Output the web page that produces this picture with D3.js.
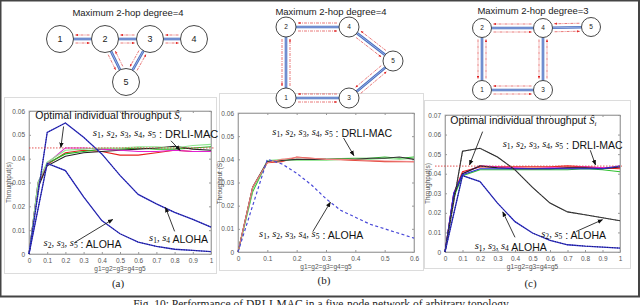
<!DOCTYPE html>
<html>
<head>
<meta charset="utf-8">
<script src="https://cdn.jsdelivr.net/npm/d3@7"></script>
<style>
  body { margin: 0; background: #fff; }
</style>
</head>
<body>
<div id="chart-container"></div>
<script>
const w = 640;
const h = 305;

// ---- data ----
const xAloha = [0, 0.1, 0.2, 0.3, 0.4, 0.5, 0.6, 0.7, 0.8, 0.9, 1];
const xDrli = [0, 0.05, 0.1, 0.2, 0.3, 0.4, 0.5, 0.6, 0.7, 0.8, 0.9, 1];
const xB = [0, 0.05, 0.1, 0.15, 0.2, 0.25, 0.3, 0.35, 0.4, 0.45, 0.5, 0.55, 0.6];
const xAlohaB = [0, 0.1, 0.15, 0.2, 0.25, 0.3, 0.35, 0.4, 0.45, 0.5, 0.55, 0.6];

// (a)
const alohaA14 = [0, 0.051, 0.055, 0.049, 0.042, 0.033, 0.025, 0.021, 0.0175, 0.0145, 0.0113];
const alohaA235 = [0, 0.038, 0.035, 0.024, 0.014, 0.0085, 0.005, 0.0032, 0.002, 0.0015, 0.001];
const drliA = [
  [0, 0.029, 0.0375, 0.0425, 0.0435, 0.043, 0.0415, 0.0415, 0.0425, 0.0435, 0.043, 0.043],
  [0, 0.030, 0.038, 0.042, 0.043, 0.044, 0.044, 0.0445, 0.044, 0.044, 0.0445, 0.045],
  [0, 0.028, 0.037, 0.041, 0.0425, 0.043, 0.0435, 0.044, 0.0445, 0.0452, 0.044, 0.0435],
  [0, 0.030, 0.038, 0.0445, 0.0445, 0.044, 0.0435, 0.043, 0.043, 0.0435, 0.043, 0.043],
  [0, 0.030, 0.0385, 0.0435, 0.044, 0.0445, 0.0445, 0.045, 0.045, 0.0445, 0.0455, 0.046]
];
const optA = 0.0445;

// (b)
const alohaB = [0, 0.040, 0.038, 0.034, 0.029, 0.023, 0.018, 0.015, 0.012, 0.010, 0.008, 0.006];
const drliB = [
  [0, 0.028, 0.0385, 0.039, 0.041, 0.0405, 0.040, 0.0398, 0.0395, 0.0393, 0.039, 0.039, 0.039],
  [0, 0.026, 0.039, 0.0395, 0.040, 0.0398, 0.040, 0.0403, 0.0405, 0.0405, 0.041, 0.0405, 0.041],
  [0, 0.027, 0.0395, 0.040, 0.0395, 0.0395, 0.0395, 0.040, 0.040, 0.040, 0.0405, 0.040, 0.0405],
  [0, 0.028, 0.039, 0.0395, 0.040, 0.040, 0.040, 0.040, 0.040, 0.0405, 0.0405, 0.041, 0.040],
  [0, 0.028, 0.0385, 0.040, 0.0408, 0.0405, 0.040, 0.040, 0.0398, 0.0395, 0.0393, 0.0392, 0.039]
];

// (c)
const alohaC25 = [0, 0.0515, 0.053, 0.0485, 0.042, 0.033, 0.025, 0.0205, 0.019, 0.0175, 0.016];
const alohaC134 = [0, 0.039, 0.036, 0.025, 0.0155, 0.0097, 0.006, 0.0037, 0.003, 0.0025, 0.002];
const drliC = [
  [0, 0.030, 0.041, 0.0435, 0.0435, 0.0435, 0.0435, 0.0435, 0.044, 0.0435, 0.043, 0.0425],
  [0, 0.028, 0.039, 0.042, 0.042, 0.042, 0.042, 0.042, 0.042, 0.0425, 0.042, 0.041],
  [0, 0.030, 0.040, 0.044, 0.0435, 0.043, 0.0425, 0.043, 0.043, 0.0435, 0.043, 0.0435],
  [0, 0.029, 0.040, 0.044, 0.043, 0.0425, 0.0425, 0.0425, 0.043, 0.043, 0.0425, 0.0435],
  [0, 0.030, 0.0395, 0.0425, 0.0425, 0.0425, 0.0425, 0.0425, 0.0425, 0.0425, 0.0425, 0.044]
];
const optC = 0.0439;

const drliColors = ["#e8221f", "#1fb51f", "#222222", "#e020d0", "#8ee68e"];
const drliColorsB = ["#e03a2a", "#2fc02f", "#9be89b", "#333333", "#f08080"];
const drliColorsC = ["#e8221f", "#2fc02f", "#e020d0", "#222222", "#2b2bd6"];

const xTicks10 = [0, 0.1, 0.2, 0.3, 0.4, 0.5, 0.6, 0.7, 0.8, 0.9, 1];
const xTicks6 = [0, 0.1, 0.2, 0.3, 0.4, 0.5, 0.6];
const yTicks6 = [0, 0.01, 0.02, 0.03, 0.04, 0.05, 0.06];
const yTicks7 = [0, 0.01, 0.02, 0.03, 0.04, 0.05, 0.06, 0.07];

const SANS = "Liberation Sans, Arial, sans-serif";
const SERIF = "Liberation Serif, Times New Roman, serif";

const svg = d3.select("#chart-container")
  .append("svg")
  .attr("width", w)
  .attr("height", h)
  .attr("font-family", SANS);

const defs = svg.append("defs");
defs.append("marker").attr("id", "arr")
  .attr("viewBox", "0 0 10 10").attr("refX", 9).attr("refY", 5)
  .attr("markerWidth", 6).attr("markerHeight", 6).attr("orient", "auto")
  .append("path").attr("d", "M0,1 L10,5 L0,9 z").attr("fill", "#111");
defs.append("marker").attr("id", "rarr")
  .attr("viewBox", "0 0 10 10").attr("refX", 9).attr("refY", 5)
  .attr("markerWidth", 4).attr("markerHeight", 4).attr("orient", "auto")
  .append("path").attr("d", "M0,1 L10,5 L0,9 z").attr("fill", "#e02020");

// outer frame
svg.append("rect").attr("x", 0.5).attr("y", 0.5).attr("width", w - 1.5).attr("height", 296)
  .attr("fill", "none").attr("stroke", "#444").attr("stroke-width", 2);

// panel frames (light grey figure windows)
const frames = [[4, 97, 212, 176], [219, 93, 204, 177], [424, 100, 206, 168]];
svg.selectAll("rect.frame").data(frames).join("rect")
  .attr("class", "frame")
  .attr("x", d => d[0] + 0.5).attr("y", d => d[1] + 0.5)
  .attr("width", d => d[2]).attr("height", d => d[3])
  .attr("fill", "#fff").attr("stroke", "#dcdcdc");

// math text like s1,s2,s3 : label
function mathLabel(g, x, y, subs, tail, size) {
  const t = g.append("text").attr("x", x).attr("y", y).attr("font-size", size).attr("fill", "#111");
  subs.forEach((s, i) => {
    t.append("tspan").attr("font-family", SERIF).attr("font-style", "italic").text("s");
    t.append("tspan").attr("font-family", SERIF).attr("font-size", size * 0.72)
      .attr("dy", 2).text(s);
    t.append("tspan").attr("dy", -2).attr("font-family", SERIF)
      .text(i < subs.length - 1 ? ", " : "");
  });
  t.append("tspan").text(tail);
  return t;
}

function optLabel(g, x, y) {
  const t = g.append("text").attr("x", x).attr("y", y).attr("font-size", 10.5).attr("fill", "#111");
  t.append("tspan").text("Optimal individual throughput ");
  t.append("tspan").attr("font-family", SERIF).attr("font-style", "italic").text("Ŝ");
  t.append("tspan").attr("font-family", SERIF).attr("font-style", "italic")
    .attr("font-size", 7).attr("dy", 2).text("i");
}

function panel(cfg) {
  const g = svg.append("g");
  const x = d3.scaleLinear().domain(cfg.xDomain).range(cfg.xRange);
  const y = d3.scaleLinear().domain(cfg.yDomain).range(cfg.yRange);

  // box
  g.append("rect")
    .attr("x", cfg.xRange[0]).attr("y", cfg.yRange[1])
    .attr("width", cfg.xRange[1] - cfg.xRange[0]).attr("height", cfg.yRange[0] - cfg.yRange[1])
    .attr("fill", "#fff").attr("stroke", "#aaa").attr("stroke-width", 0.8);

  const fmt = d => d === 0 ? "0" : (d === 1 ? "1" : String(+d.toFixed(2)));
  g.append("g").attr("transform", `translate(0,${cfg.yRange[0]})`)
    .call(d3.axisBottom(x).tickValues(cfg.xTicks).tickFormat(fmt).tickSizeInner(-2).tickSizeOuter(0).tickPadding(4));
  g.append("g").attr("transform", `translate(${cfg.xRange[0]},0)`)
    .call(d3.axisLeft(y).tickValues(cfg.yTicks).tickFormat(fmt).tickSizeInner(-2).tickSizeOuter(0).tickPadding(4));
  g.append("g").attr("transform", `translate(0,${cfg.yRange[1]})`)
    .call(d3.axisTop(x).tickValues(cfg.xTicks).tickFormat("").tickSizeInner(-2).tickSizeOuter(0));
  g.append("g").attr("transform", `translate(${cfg.xRange[1]},0)`)
    .call(d3.axisRight(y).tickValues(cfg.yTicks).tickFormat("").tickSizeInner(-2).tickSizeOuter(0));
  g.selectAll(".domain").attr("stroke", "#999").attr("stroke-width", 0.8);
  g.selectAll(".tick line").attr("stroke", "#999");
  g.selectAll(".tick text").attr("font-size", 6.5).attr("fill", "#555").attr("font-family", SANS);

  g.append("text").attr("x", (cfg.xRange[0] + cfg.xRange[1]) / 2).attr("y", cfg.yRange[0] + 17)
    .attr("text-anchor", "middle").attr("font-size", 6.5).attr("fill", "#555").text("g1=g2=g3=g4=g5");
  g.append("text")
    .attr("transform", `translate(${cfg.yLabelX},${(cfg.yRange[0] + cfg.yRange[1]) / 2}) rotate(-90)`)
    .attr("text-anchor", "middle").attr("font-size", 6.5).attr("fill", "#555").text(cfg.yLabel);

  g.append("text").attr("x", (cfg.xRange[0] + cfg.xRange[1]) / 2 - 2).attr("y", cfg.tagY)
    .attr("text-anchor", "middle").attr("font-size", 11).attr("font-family", SERIF)
    .attr("fill", "#222").text(cfg.tag);

  return { g, x, y };
}

function drawLine(p, xs, ys, color, opts = {}) {
  const line = d3.line().x((d, i) => p.x(xs[i])).y(d => p.y(d));
  p.g.append("path").datum(ys).attr("d", line)
    .attr("fill", "none").attr("stroke", color)
    .attr("stroke-width", opts.width || 1.1)
    .attr("stroke-dasharray", opts.dash || null);
}

function annotate(p, tx, ty, hx, hy) {
  p.g.append("line")
    .attr("x1", p.x(tx)).attr("y1", p.y(ty)).attr("x2", p.x(hx)).attr("y2", p.y(hy))
    .attr("stroke", "#222").attr("stroke-width", 0.9).attr("marker-end", "url(#arr)");
}

// ---- panel (a) ----
const pA = panel({ xDomain: [0, 1], xRange: [29, 211], yDomain: [0, 0.06], yRange: [254, 111],
  xTicks: xTicks10, yTicks: yTicks6, yLabel: "Throughput(s)", yLabelX: 11, tag: "(a)", tagY: 287 });
drliA.forEach((s, i) => drawLine(pA, xDrli, s, drliColors[i]));
drawLine(pA, xAloha, alohaA14, "#3030d0", { width: 1.3 });
drawLine(pA, xAloha, alohaA14, "#202060", { width: 1, dash: "1,1.5" });
drawLine(pA, xAloha, alohaA235, "#3030d0", { width: 1.3 });
drawLine(pA, xAloha, alohaA235, "#202060", { width: 1, dash: "1,1.5" });
pA.g.append("line").attr("x1", pA.x(0)).attr("x2", pA.x(1) + 3)
  .attr("y1", pA.y(optA)).attr("y2", pA.y(optA))
  .attr("stroke", "#e04040").attr("stroke-width", 0.9).attr("stroke-dasharray", "1.5,1.5");
optLabel(pA.g, pA.x(0.035), pA.y(0.0565));
annotate(pA, 0.19, 0.0535, 0.175, 0.0447);
mathLabel(pA.g, pA.x(0.35), pA.y(0.0495), ["1", "2", "3", "4", "5"], " : DRLI-MAC", 11);
annotate(pA, 0.78, 0.0475, 0.83, 0.0435);
mathLabel(pA.g, pA.x(0.08), pA.y(0.0032), ["2", "3", "5"], " : ALOHA", 10.5);
annotate(pA, 0.25, 0.0048, 0.46, 0.0145);
mathLabel(pA.g, pA.x(0.66), pA.y(0.0055), ["1", "4"], " ALOHA", 10.5);
annotate(pA, 0.8, 0.0095, 0.75, 0.0195);

// ---- panel (b) ----
const pB = panel({ xDomain: [0, 0.6], xRange: [238, 414], yDomain: [0, 0.06], yRange: [252, 113],
  xTicks: xTicks6, yTicks: yTicks6, yLabel: "Throughput (S)", yLabelX: 222, tag: "(b)", tagY: 284 });
drliB.forEach((s, i) => drawLine(pB, xB, s, drliColorsB[i]));
drawLine(pB, xAlohaB, alohaB, "#4a4ad8", { width: 1.2, dash: "3,2.5" });
mathLabel(pB.g, pB.x(0.117), pB.y(0.0505), ["1", "2", "3", "4", "5"], " : DRLI-MAC", 10.5);
annotate(pB, 0.36, 0.0492, 0.395, 0.0416);
mathLabel(pB.g, pB.x(0.072), pB.y(0.0063), ["1", "2", "3", "4", "5"], " : ALOHA", 10.5);
annotate(pB, 0.255, 0.0088, 0.315, 0.0215);

// ---- panel (c) ----
const pC = panel({ xDomain: [0, 1], xRange: [445, 620], yDomain: [0, 0.07], yRange: [252, 115],
  xTicks: xTicks10, yTicks: yTicks7, yLabel: "Throughput(s)", yLabelX: 430, tag: "(c)", tagY: 287 });
drliC.forEach((s, i) => drawLine(pC, xDrli, s, drliColorsC[i]));
drawLine(pC, xAloha, alohaC25, "#222222", { width: 1.1 });
drawLine(pC, xAloha, alohaC25, "#555555", { width: 1, dash: "1,1.5" });
drawLine(pC, xAloha, alohaC134, "#3030d0", { width: 1.3 });
drawLine(pC, xAloha, alohaC134, "#202060", { width: 1, dash: "1,1.5" });
pC.g.append("line").attr("x1", pC.x(0) - 10).attr("x2", pC.x(1) + 2)
  .attr("y1", pC.y(optC)).attr("y2", pC.y(optC))
  .attr("stroke", "#e04040").attr("stroke-width", 0.9).attr("stroke-dasharray", "1.5,1.5");
optLabel(pC.g, pC.x(0.03), pC.y(0.0655));
annotate(pC, 0.215, 0.0615, 0.14, 0.0445);
mathLabel(pC.g, pC.x(0.33), pC.y(0.0535), ["1", "2", "3", "4", "5"], " : DRLI-MAC", 10.5);
annotate(pC, 0.83, 0.0520, 0.86, 0.0445);
mathLabel(pC.g, pC.x(0.55), pC.y(0.0075), ["2", "5"], " : ALOHA", 10.5);
annotate(pC, 0.75, 0.0105, 0.9, 0.0165);
mathLabel(pC.g, pC.x(0.17), pC.y(0.0015), ["1", "3", "4"], " ALOHA", 10.5);
annotate(pC, 0.40, 0.0075, 0.33, 0.0205);

// ---- topology diagrams ----
const titles = [
  { x: 128, y: 16, text: "Maximum 2-hop degree=4" },
  { x: 331, y: 15, text: "Maximum 2-hop degree=4" },
  { x: 533, y: 14, text: "Maximum 2-hop degree=3" }
];
svg.selectAll("text.title").data(titles).join("text")
  .attr("class", "title").attr("x", d => d.x).attr("y", d => d.y)
  .attr("text-anchor", "middle").attr("font-size", 9.5).attr("fill", "#222").text(d => d.text);

const topoA = { r: 13.5, font: 9,
  nodes: { 1: [60, 39], 2: [105, 39], 3: [150, 39], 4: [194, 39], 5: [126, 82] },
  links: [[1, 2], [2, 3], [3, 4], [2, 5], [3, 5]] };
const topoB = { r: 10, font: 6.5,
  nodes: { 2: [286, 27], 4: [349, 27], 5: [393, 61], 1: [286, 98], 3: [349, 98] },
  links: [[2, 4], [4, 5], [1, 2], [1, 3], [3, 5]] };
const topoC = { r: 9.5, font: 6.5,
  nodes: { 2: [482, 28], 4: [543, 28], 5: [591, 27], 1: [482, 90], 3: [543, 90] },
  links: [[2, 4], [4, 5], [1, 2], [1, 3], [3, 4]] };

function topology(t) {
  const g = svg.append("g");
  t.links.forEach(([a, b]) => {
    const [x1, y1] = t.nodes[a], [x2, y2] = t.nodes[b];
    const dx = x2 - x1, dy = y2 - y1, L = Math.hypot(dx, dy);
    const ux = dx / L, uy = dy / L, nx = -uy, ny = ux;
    const sx = x1 + ux * t.r, sy = y1 + uy * t.r, ex = x2 - ux * t.r, ey = y2 - uy * t.r;
    g.append("line").attr("x1", sx).attr("y1", sy).attr("x2", ex).attr("y2", ey)
      .attr("stroke", "#4a6fc0").attr("stroke-width", 2.6);
    g.append("line").attr("x1", sx).attr("y1", sy).attr("x2", ex).attr("y2", ey)
      .attr("stroke", "#b8c8ee").attr("stroke-width", 0.7);
    [[1, 1], [-1, -1]].forEach(([side, dir]) => {
      const o = 4 * side;
      const ax = sx + nx * o + ux * 2, ay = sy + ny * o + uy * 2;
      const bx = ex + nx * o - ux * 2, by = ey + ny * o - uy * 2;
      g.append("line")
        .attr("x1", dir > 0 ? ax : bx).attr("y1", dir > 0 ? ay : by)
        .attr("x2", dir > 0 ? bx : ax).attr("y2", dir > 0 ? by : ay)
        .attr("stroke", "#e04040").attr("stroke-width", 0.7)
        .attr("stroke-dasharray", "3,1,1,1").attr("marker-end", "url(#rarr)");
    });
  });
  Object.entries(t.nodes).forEach(([k, [cx, cy]]) => {
    g.append("circle").attr("cx", cx).attr("cy", cy).attr("r", t.r)
      .attr("fill", "#fff").attr("stroke", "#333").attr("stroke-width", 0.9);
    g.append("text").attr("x", cx).attr("y", cy + t.font * 0.35).attr("text-anchor", "middle")
      .attr("font-size", t.font).attr("fill", "#222").text(k);
  });
}
[topoA, topoB, topoC].forEach(topology);

// caption
svg.append("text").attr("x", 322).attr("y", 308).attr("text-anchor", "middle")
  .attr("font-size", 11.5).attr("font-family", SERIF).attr("fill", "#222")
  .text("Fig. 10: Performance of DRLI-MAC in a five-node network of arbitrary topology.");
</script>
</body>
</html>
